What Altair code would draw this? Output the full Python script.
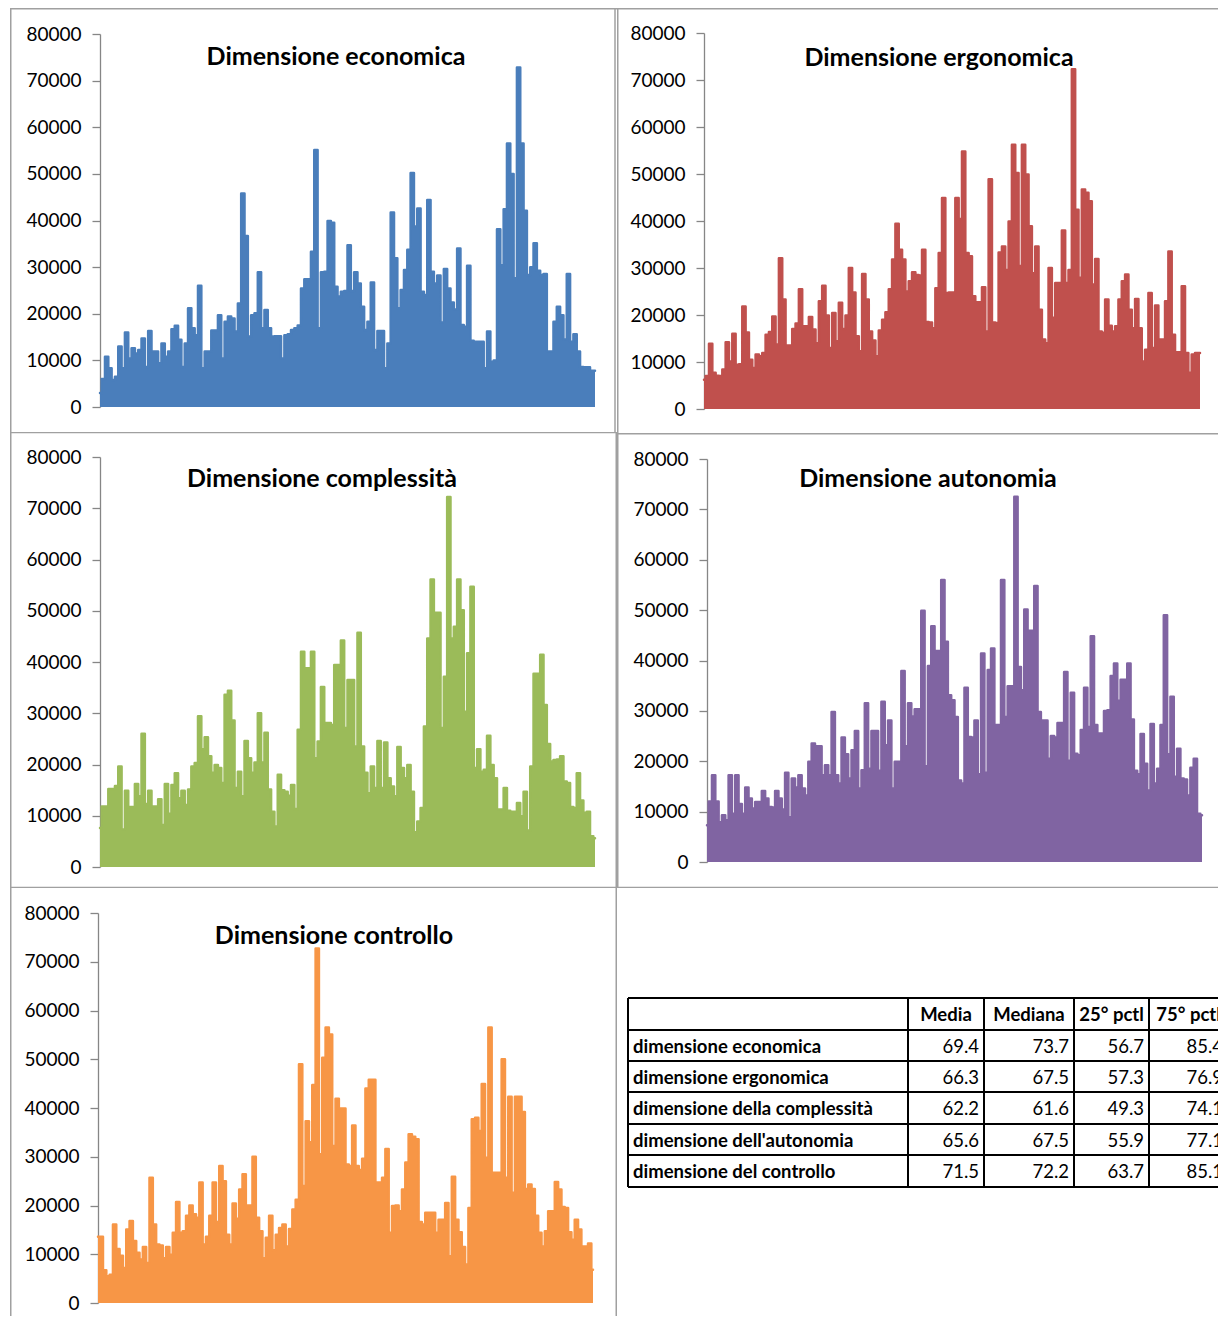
import altair as alt
import pandas as pd

# ---------------------------------------------------------------------------
# Series: one value per record, left to right
# ---------------------------------------------------------------------------
economica = [3000, 6000, 10800, 8300, 5800, 6500, 13000, 8300, 16000, 10400,
             12600, 11500, 12200, 14700, 8600, 16300, 11900, 11900, 9400, 13600,
             10800, 11900, 16700, 17400, 14400, 8600, 13600, 21200, 16900, 15400,
             26000, 8300, 11900, 11900, 16400, 16400, 19700, 10400, 18300, 19400,
             19000, 16200, 22200, 45800, 36700, 15100, 19700, 20100, 28900, 16900,
             20800, 16900, 15100, 15200, 15200, 10400, 15400, 15600, 16500, 16900,
             17500, 25400, 27400, 27400, 33300, 55100, 16900, 28900, 29000, 39900,
             39500, 25800, 23700, 24700, 24900, 34700, 24900, 28900, 26500, 21500,
             16500, 18300, 26700, 12200, 16300, 16300, 8300, 13600, 41700, 31900,
             21200, 25100, 29400, 33700, 50200, 38700, 42600, 24700, 24000, 44400,
             29000, 26500, 28200, 18100, 29600, 25400, 22400, 20900, 34000, 17600,
             17200, 30300, 14200, 14000, 14000, 14000, 8300, 16200, 9700, 10000,
             38100, 30400, 42400, 56500, 50000, 27600, 72800, 56500, 42100, 28300,
             30000, 35100, 29200, 28300, 28500, 11900, 11900, 18300, 21500, 19700,
             14500, 28500, 14000, 15600, 11900, 8600, 8500, 8500, 7800, 7800]

ergonomica = [6200, 7000, 13900, 7700, 7100, 7000, 8400, 14200, 10100, 16000,
              9400, 9500, 21800, 16300, 10500, 8700, 11600, 11200, 11900, 15800,
              16400, 19700, 13700, 32100, 23300, 13500, 13500, 17000, 18200, 25500,
              17600, 17600, 19600, 16900, 14000, 22900, 26200, 19900, 13000, 20400,
              14400, 22600, 17000, 19900, 30000, 24800, 15500, 12300, 28700, 23300,
              16500, 14600, 11200, 16700, 19000, 20600, 25500, 31800, 39400, 33900,
              31800, 25000, 27200, 29100, 28500, 28400, 33900, 18500, 18400, 17200,
              25700, 33200, 44900, 24700, 24800, 24800, 44900, 40400, 54800, 33200,
              32500, 24000, 22700, 22700, 25900, 16500, 48900, 18400, 18300, 33300,
              34600, 29600, 39900, 56200, 50200, 30400, 56200, 49900, 38900, 28900,
              34600, 21100, 14800, 14000, 30000, 19400, 26800, 26800, 38000, 26800,
              29600, 72300, 42400, 27900, 46700, 46000, 44200, 26500, 31900, 16500,
              16200, 23300, 17700, 16500, 17600, 23300, 27200, 28600, 21100, 17200,
              23400, 17200, 10100, 12600, 24700, 13000, 22000, 14800, 14800, 22900,
              33500, 15800, 12100, 12100, 26100, 11900, 7700, 11600, 11900, 11900]

complessita = [7600, 11800, 11800, 15200, 15200, 15800, 19600, 7300, 14900, 11700,
               11700, 16200, 13800, 26000, 12300, 14900, 11800, 11800, 13200, 8200,
               16200, 10400, 16000, 18300, 13400, 14900, 12100, 15100, 19600, 20300,
               29400, 23000, 25300, 21600, 18400, 19900, 19300, 16400, 33600, 34400,
               28600, 15400, 18600, 13800, 24600, 21200, 18400, 20400, 30000, 20400,
               26200, 15100, 10800, 7900, 18000, 15000, 14700, 13900, 16000, 11300,
               26800, 42000, 38800, 38800, 42000, 21200, 24500, 35100, 28100, 28100,
               27700, 39400, 39400, 44200, 27100, 36500, 36500, 23500, 45700, 23500,
               18400, 14400, 19600, 15400, 24600, 15400, 24300, 17300, 15700, 13800,
               23400, 19300, 17300, 19900, 14700, 6800, 8900, 11500, 27400, 44600,
               56100, 49600, 49600, 27100, 37100, 72200, 44600, 46900, 56100, 50100,
               30300, 41700, 54700, 19300, 23000, 18600, 19000, 25600, 19900, 17300,
               11200, 11200, 15400, 11000, 10800, 10800, 12500, 9900, 14700, 7100,
               19600, 37700, 37700, 41400, 31600, 24000, 20600, 20900, 21000, 21600,
               16700, 16400, 11700, 11500, 18300, 13000, 10600, 10800, 6000, 5600]

autonomia = [7300, 12000, 17200, 12000, 7900, 9300, 8300, 17200, 9600, 17200,
             11500, 9600, 14800, 12600, 10600, 11900, 11900, 14100, 12600, 10900,
             10800, 14100, 12600, 10400, 17700, 8900, 16600, 14800, 17200, 14600,
             13200, 19900, 23500, 23000, 23000, 17200, 19200, 17200, 29800, 17200,
             15600, 24700, 21400, 16600, 22200, 26000, 14600, 18200, 31500, 18500,
             26000, 26000, 18100, 31800, 23200, 28100, 14600, 19900, 19900, 37900,
             23000, 31500, 28900, 30300, 30300, 49900, 19000, 38900, 46800, 41900,
             41900, 56000, 43700, 33100, 32100, 28800, 16200, 15600, 34600, 24800,
             24700, 28100, 17400, 41400, 17700, 38100, 42400, 27200, 27200, 56000,
             28800, 34900, 34900, 72500, 38700, 34100, 50100, 45900, 45900, 54800,
             29800, 28100, 28100, 20500, 25000, 24700, 27600, 27600, 37700, 20100,
             33600, 21500, 21200, 26200, 34600, 26800, 44800, 27200, 25500, 25500,
             30000, 30100, 36900, 39400, 32000, 36200, 36200, 39400, 28300, 18100,
             17400, 25400, 19500, 14200, 27400, 15600, 18500, 27200, 49000, 21400,
             32800, 16900, 22500, 16600, 16400, 13200, 18700, 20500, 9600, 9300]

controllo = [13600, 13600, 6700, 5500, 5800, 16100, 11100, 9700, 7200, 15100,
             16800, 12700, 10300, 8900, 11500, 8200, 25700, 16100, 12000, 11800,
             9200, 11500, 9900, 14400, 20700, 14400, 14700, 17900, 20000, 18200,
             17500, 24700, 12000, 13600, 17900, 24700, 16600, 28100, 25000, 14000,
             12000, 20400, 17300, 23300, 26400, 20000, 20000, 30000, 17500, 14700,
             9200, 13400, 17900, 10800, 14000, 15400, 16100, 11600, 15200, 19200,
             21200, 49000, 24000, 37300, 33000, 44700, 72700, 30500, 50300, 56500,
             55100, 32200, 41900, 39900, 39900, 28400, 28100, 36400, 28100, 27300,
             29600, 44000, 45800, 45800, 24700, 24700, 25700, 31600, 14400, 19900,
             20000, 18800, 23300, 28800, 34600, 34100, 33600, 16600, 16100, 18500,
             18500, 18500, 14400, 17100, 17100, 20500, 9600, 25900, 17100, 14500,
             11500, 7900, 19500, 37700, 38000, 35300, 44900, 29800, 56500, 26700,
             26700, 26700, 50000, 25700, 42300, 22600, 42300, 42300, 39200, 23400,
             24300, 23400, 17900, 14400, 11600, 14700, 18800, 18800, 24800, 23300,
             19700, 19500, 14500, 13000, 17100, 15100, 11600, 11600, 12200, 6800]

y_ticks = [0, 10000, 20000, 30000, 40000, 50000, 60000, 70000, 80000]

# ---------------------------------------------------------------------------
# Summary table
# ---------------------------------------------------------------------------
table_rows = ["dimensione economica", "dimensione ergonomica",
              "dimensione della complessità", "dimensione dell'autonomia",
              "dimensione del controllo"]
table_cols = ["Media", "Mediana", "25° pctl", "75° pctl"]
media = [69.4, 66.3, 62.2, 65.6, 71.5]
mediana = [73.7, 67.5, 61.6, 67.5, 72.2]
pctl25 = [56.7, 57.3, 49.3, 55.9, 63.7]
pctl75 = [85.4, 76.9, 74.1, 77.1, 85.1]

# ---------------------------------------------------------------------------
# Styling
# ---------------------------------------------------------------------------
FONT = "Lato"
AXIS_GREY = "#868686"
FRAME_GREY = "#a0a0a0"

# cell sizes of the 2-column grid
COL1_W, COL2_W = 607, 601
ROW1_H, ROW2_H = 424, 456
ROW2B_H = 455
ROW3_H = 428


def frame_rules(w, h, sides):
    """Thin grey border lines of a chart frame."""
    one = alt.Data(values=[{"k": 1}])
    rules = []
    for side, pos in sides:
        if side == "v":
            enc = dict(x=alt.value(pos), y=alt.value(0), y2=alt.value(h))
        else:
            enc = dict(y=alt.value(pos), x=alt.value(0), x2=alt.value(w))
        rules.append(
            alt.Chart(one)
            .mark_rule(color=FRAME_GREY, strokeWidth=1.5, clip=True)
            .encode(**enc)
        )
    return rules


def panel(values, title, color, w, h, x0, x1, y0, y1, tx, ty, sides):
    df = pd.DataFrame({"record": list(range(1, len(values) + 1)), "value": values})
    enc_x = alt.X(
        "record:Q",
        scale=alt.Scale(domain=[1, len(values)], range=[x0, x1], nice=False, zero=False),
        axis=None,
    )
    enc_y = alt.Y(
        "value:Q",
        scale=alt.Scale(domain=[0, 80000], range=[y0, y1], nice=False),
        axis=alt.Axis(
            values=y_ticks, format="d", offset=-x0, grid=False, title=None,
            domainColor=AXIS_GREY, domainWidth=1.3, tickColor=AXIS_GREY,
            tickWidth=1.3, tickSize=8, labelFont=FONT, labelFontSize=19,
            labelColor="#000000", labelPadding=11, labelFlush=False,
            labelOverlap=False,
        ),
    )
    base = alt.Chart(df).encode(x=enc_x, y=enc_y)
    area = base.mark_area(color=color, opacity=1, interpolate="step")
    line = base.mark_line(color=color, strokeWidth=2.5, strokeJoin="round",
                          strokeCap="round", interpolate="step")
    head = (
        alt.Chart(alt.Data(values=[{"t": title}]))
        .mark_text(font=FONT, fontSize=25, fontWeight="bold", color="#000000",
                   align="center", baseline="alphabetic")
        .encode(text="t:N", x=alt.value(tx), y=alt.value(ty))
    )
    return alt.layer(area, line, head, *frame_rules(w, h, sides)).properties(width=w, height=h)


def table_panel(w, h):
    col_edges = [11, 291, 367, 457, 532, 611]
    row_edges = [110, 142, 173, 204, 236, 267, 299]
    row_mid = [(row_edges[i] + row_edges[i + 1]) / 2 + 1 for i in range(len(row_edges) - 1)]

    head = pd.DataFrame({
        "x": [(col_edges[j + 1] + col_edges[j + 2]) / 2 for j in range(len(table_cols))],
        "y": [row_mid[0]] * len(table_cols),
        "t": table_cols,
    })
    labels = pd.DataFrame({
        "x": [col_edges[0] + 5] * len(table_rows),
        "y": row_mid[1:],
        "t": table_rows,
    })
    nums = []
    for j, col in enumerate([media, mediana, pctl25, pctl75]):
        for i, v in enumerate(col):
            nums.append({"x": col_edges[j + 2] - 5, "y": row_mid[i + 1], "v": v})
    nums = pd.DataFrame(nums)

    hlines = pd.DataFrame({"y": row_edges, "x": col_edges[0], "x2": col_edges[-1]})
    vlines = pd.DataFrame({"x": col_edges, "y": row_edges[0], "y2": row_edges[-1]})

    px = lambda f: alt.X(f, scale=None, axis=None)
    py = lambda f: alt.Y(f, scale=None, axis=None)

    t_head = alt.Chart(head).mark_text(font=FONT, fontSize=18.5, fontWeight="bold",
                                       align="center", baseline="middle", color="#000000",
                                       clip=True).encode(x=px("x:Q"), y=py("y:Q"), text="t:N")
    t_lab = alt.Chart(labels).mark_text(font=FONT, fontSize=18.5, fontWeight="bold",
                                        align="left", baseline="middle", color="#000000",
                                        clip=True).encode(x=px("x:Q"), y=py("y:Q"), text="t:N")
    t_num = alt.Chart(nums).mark_text(font=FONT, fontSize=18.5, align="right",
                                      baseline="middle", color="#000000",
                                      clip=True).encode(x=px("x:Q"), y=py("y:Q"),
                                                        text=alt.Text("v:Q", format=".1f"))
    r_h = alt.Chart(hlines).mark_rule(color="#000000", strokeWidth=2, clip=True).encode(
        y=py("y:Q"), x=px("x:Q"), x2="x2:Q")
    r_v = alt.Chart(vlines).mark_rule(color="#000000", strokeWidth=2, clip=True).encode(
        x=px("x:Q"), y=py("y:Q"), y2="y2:Q")
    return alt.layer(r_h, r_v, t_head, t_lab, t_num).properties(width=w, height=h)


p_econ = panel(economica, "Dimensione economica", "#4a7ebb", COL1_W, ROW1_H,
               90, 585, 399, 26, 326, 57, [("v", 0.75), ("h", 0.75), ("v", 605)])
p_ergo = panel(ergonomica, "Dimensione ergonomica", "#c0504d", COL2_W, 425,
               87, 583, 401, 25, 322, 58, [("v", 0.75), ("h", 0.75)])
p_comp = panel(complessita, "Dimensione complessità", "#9bbb59", COL1_W, ROW2_H,
               90, 585, 435, 25, 312, 55, [("v", 0.75), ("h", 0.5), ("v", 606.25), ("h", 455.5)])
p_auto = panel(autonomia, "Dimensione autonomia", "#8064a2", COL2_W, ROW2B_H,
               90, 585, 429, 26, 311, 54, [("v", 0.75), ("h", 0.75), ("h", 454.5)])
p_cont = panel(controllo, "Dimensione controllo", "#f79646", COL1_W, ROW3_H,
               88, 583, 415, 25, 324, 56, [("v", 0.75), ("v", 606.25)])
p_table = table_panel(COL2_W, ROW3_H)

left = alt.vconcat(p_econ, p_comp, p_cont, spacing=0)
right = alt.vconcat(p_ergo, p_auto, p_table, spacing=0)

chart = (
    alt.hconcat(left, right, spacing=0)
    .properties(padding={"left": 10, "top": 8, "right": 0, "bottom": 0}, background="#ffffff")
    .configure_view(strokeWidth=0)
)

chart.save("out.html", embed_options={"renderer": "svg", "actions": False})
